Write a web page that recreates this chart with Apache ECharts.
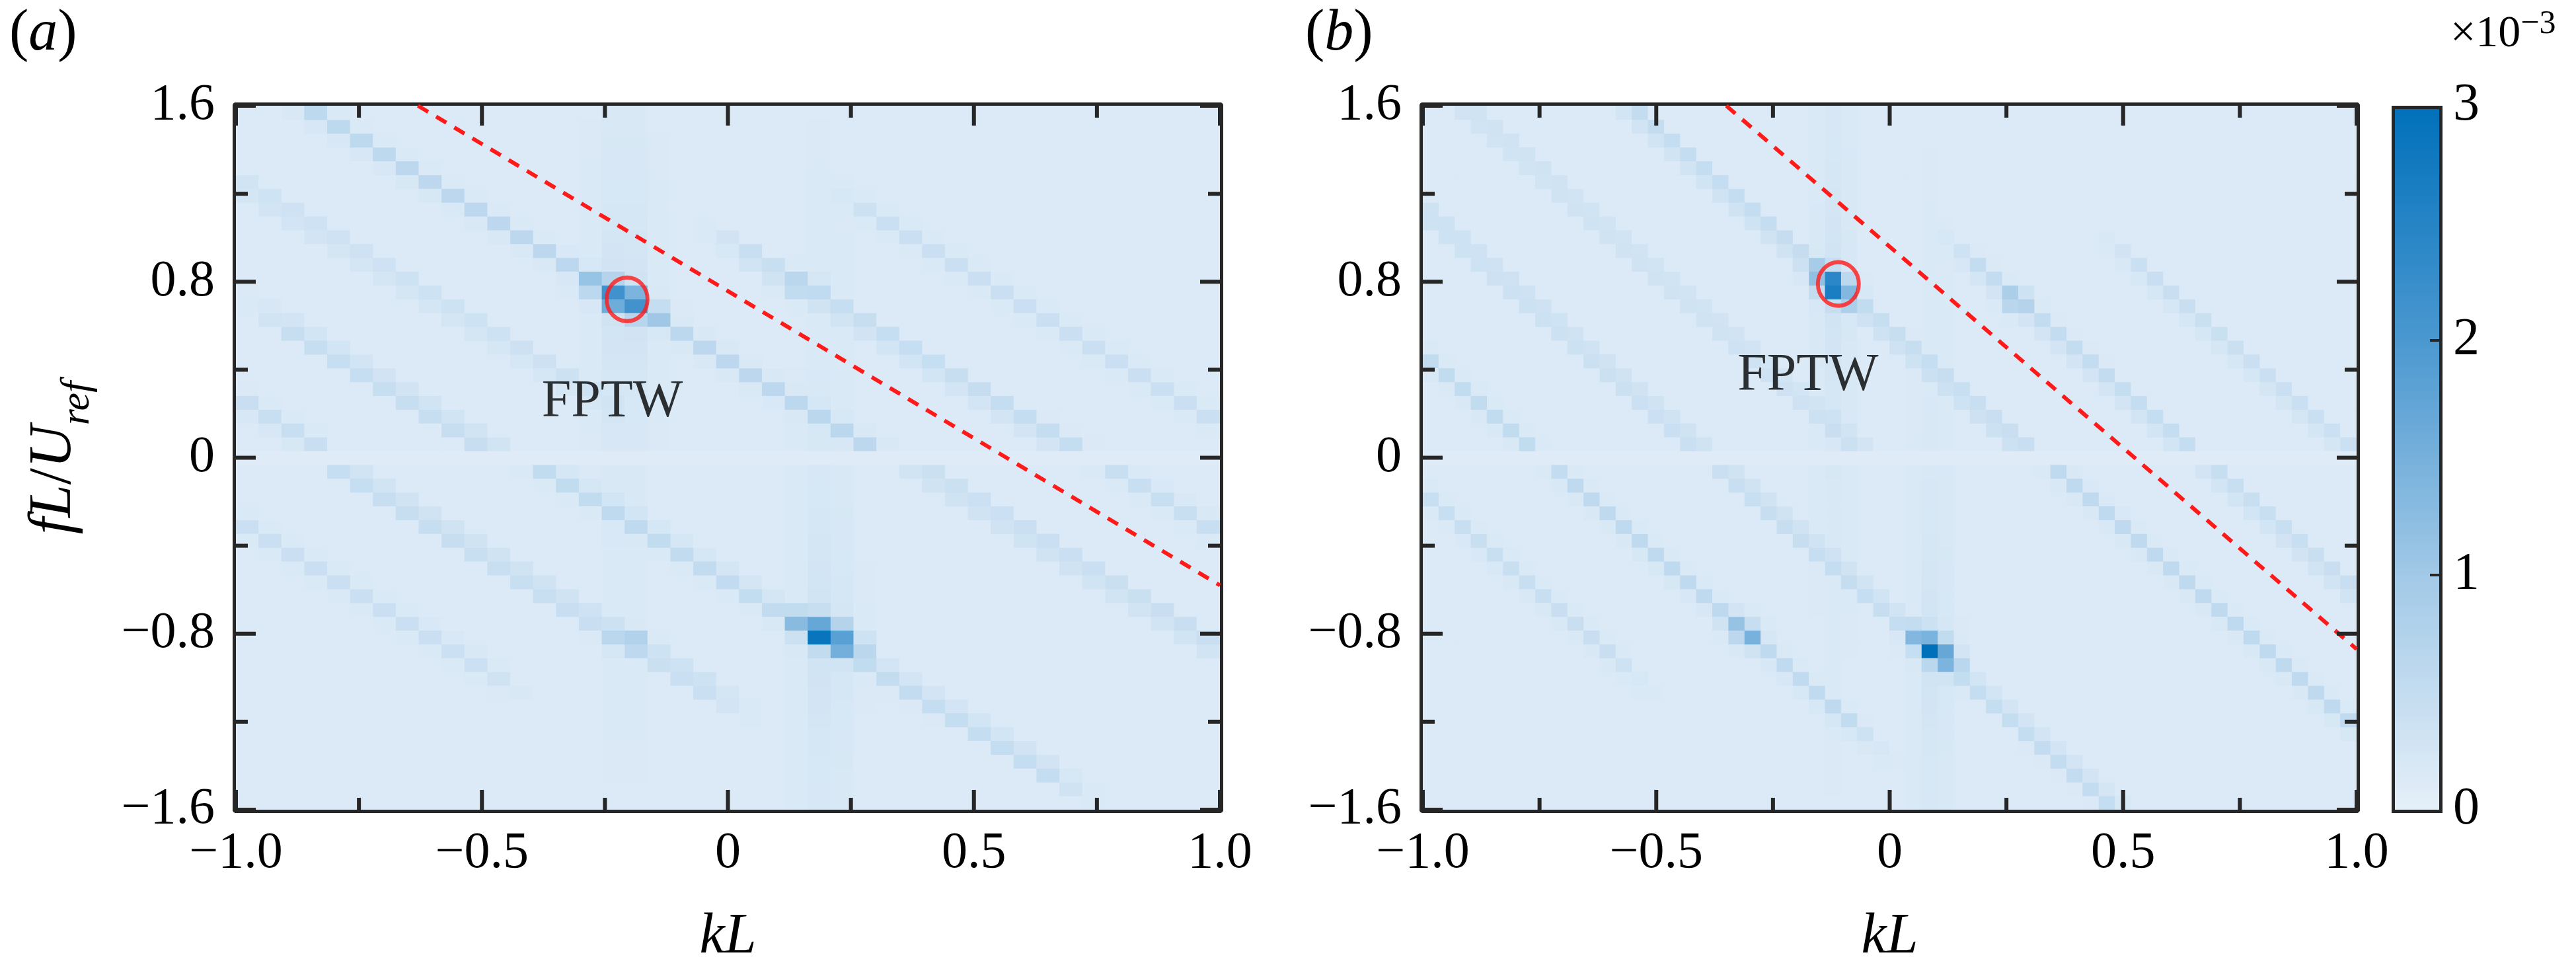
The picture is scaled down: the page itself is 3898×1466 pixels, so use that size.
<!DOCTYPE html>
<html><head><meta charset="utf-8">
<script src="https://cdn.jsdelivr.net/npm/echarts@6/dist/echarts.min.js"></script>
<style>html,body{margin:0;padding:0;background:#fff}#c{width:3898px;height:1466px}</style>
</head><body><div id="c"></div>
<script>
// ---- data ----
const xTicks = [-1.0, -0.5, 0, 0.5, 1.0];
const xMinorTicks = [-0.75, -0.25, 0.25, 0.75];
const yTicks = [-1.6, -0.8, 0, 0.8, 1.6];
const yMinorTicks = [-1.2, -0.4, 0.4, 1.2];
const colorTicks = [0, 1, 2, 3];
const colorStops = ['#e6f0f9', '#a2c9e7', '#4b98d0', '#0070BA'];
const background = 0.16;
// panel (a): slope of streaks, grid resolution
const slopeA = -1.34, colsA = 43, rowsA = 51;
// streaks: [intercept c (f at kL=0), kFrom, kTo, amplitude, half]
const streaksA = [
  [-1.07, -1.0, -0.85, 0.3, 'u'], [-0.60, -0.88, -0.45, 0.4, 'u'], [-0.08, -0.95, -0.30, 0.28, 'u'],
  [0.44, -0.85, 0.38, 0.45, 'u'], [0.98, 0.05, 0.9, 0.4, 'u'], [1.50, 0.3, 1.0, 0.25, 'u'],
  [-1.62, -1.0, -0.5, 0.25, 'l'], [-1.10, -0.82, -0.05, 0.42, 'l'], [-0.55, -0.42, 0.65, 0.42, 'l'],
  [0.47, 0.4, 1.0, 0.38, 'l'], [1.00, 0.78, 1.0, 0.28, 'l']
];
// hot spots: [kL, f, amplitude]
const hotA = [[-0.21, 0.72, 2.8], [-0.26, 0.79, 0.9], [-0.16, 0.65, 0.7], [0.15, 0.78, 0.35],
  [0.20, -0.80, 2.8], [0.155, -0.74, 0.9], [0.245, -0.86, 1.1], [-0.2, -0.83, 0.5]];
// faint vertical bands: [kL, f centre, amplitude]
const bandsA = [[-0.21, 0.72, 0.2], [0.20, -0.80, 0.2]];
const redLineA = [[-0.63, 1.6], [1.0, -0.58]];
const circleA = [[-0.205, 0.72]];
const labelA = [[-0.235, 0.25]];

// panel (b)
const slopeB = -1.83, colsB = 58, rowsB = 51;
const streaksB = [
  [-1.36, -1.0, -0.74, 0.38, 'u'], [-0.70, -1.0, -0.39, 0.38, 'u'], [-0.07, -0.9, -0.04, 0.3, 'u'],
  [0.57, -0.55, 0.3, 0.45, 'u'], [1.21, 0.2, 0.66, 0.42, 'u'], [1.84, 0.55, 1.0, 0.32, 'u'],
  [-1.99, -1.0, -0.6, 0.28, 'l'], [-1.36, -0.68, -0.1, 0.42, 'l'], [-0.70, -0.34, 0.45, 0.42, 'l'],
  [0.60, 0.36, 0.97, 0.42, 'l'], [1.21, 0.68, 1.0, 0.38, 'l']
];
const hotB = [[-0.118, 0.78, 2.9], [-0.15, 0.84, 0.8], [-0.085, 0.72, 0.6], [0.27, 0.72, 0.7],
  [0.095, -0.87, 2.9], [0.06, -0.81, 0.9], [0.13, -0.93, 0.9], [-0.30, -0.81, 1.0], [-0.33, -0.75, 0.5]];
const bandsB = [[-0.118, 0.78, 0.18], [0.095, -0.87, 0.18]];
const redLineB = [[-0.35, 1.6], [1.0, -0.87]];
const circleB = [[-0.11, 0.79]];
const labelB = [[-0.175, 0.37]];

// ---- build cells ----
const sq = x => x * x;
function build(slope, cols, rows, streaks, hots, bands) {
  const dk = 2 / cols, df = 3.2 / rows, out = [];
  for (let i = 0; i < cols; i++) for (let j = 0; j < rows; j++) {
    const k = -1 + dk * (i + 0.5), f = -1.6 + df * (j + 0.5);
    let v = background;
    if (Math.abs(f) < df / 2) { out.push([k, f, background * 0.6]); continue; }
    for (const [c, k0, k1, a, h] of streaks) {
      if ((h === 'u' && f < 0) || (h === 'l' && f > 0)) continue;
      const d = f - (c + slope * k);
      const o = k < k0 ? k0 - k : (k > k1 ? k - k1 : 0);
      v += a * Math.exp(-sq(d / 0.04)) * Math.exp(-sq(o / 0.06));
    }
    for (const [k0, f0, a] of hots) v += a * Math.exp(-sq((k - k0) / (dk * 0.75)) - sq((f - f0) / (df * 0.75)));
    for (const [k0, f0, a] of bands) v += a * Math.exp(-sq((k - k0) / dk)) * Math.exp(-Math.abs(f - f0) / 0.7);
    out.push([k, f, Math.min(v, 3)]);
  }
  return {cells: out, dk, df};
}
const A = build(slopeA, colsA, rowsA, streaksA, hotA, bandsA);
const B = build(slopeB, colsB, rowsB, streaksB, hotB, bandsB);

// tick items: [x, y, kind] kind 0 x-major, 1 x-minor, 2 y-major, 3 y-minor
const tickItems = [
  ...xTicks.map(v => [v, -1.6, 0]), ...xMinorTicks.map(v => [v, -1.6, 1]),
  ...yTicks.map(v => [-1, v, 2]), ...yMinorTicks.map(v => [-1, v, 3])];

const FONT = 'Liberation Serif';
const fmt = v => (v < 0 ? '\u2212' : '') + (Math.abs(v) === 0 ? '0' : Math.abs(v).toFixed(1));
const axisCommon = {
  axisLine: {show: true, onZero: false, lineStyle: {color: '#262626', width: 10}},
  axisTick: {show: false}, minorTick: {show: false},
  splitLine: {show: false}};
function xAx(grid, pos, show) {
  return Object.assign({type: 'value', gridIndex: grid, position: pos, min: -1, max: 1, interval: 0.5,
    axisLabel: {show: show, formatter: fmt, fontFamily: FONT, fontSize: 78, color: '#000', margin: 28},
    name: show ? 'kL' : '', nameLocation: 'middle', nameGap: 150,
    nameTextStyle: {fontFamily: FONT, fontStyle: 'italic', fontSize: 86, color: '#000'}}, axisCommon);
}
function yAx(grid, pos, show, title) {
  return Object.assign({type: 'value', gridIndex: grid, position: pos, min: -1.6, max: 1.6, interval: 0.8,
    axisLabel: {show: show, formatter: fmt, fontFamily: FONT, fontSize: 78, color: '#000', margin: 32},
    name: title ? '{i|fL}{n|/}{i|U}{s|ref}' : '', nameLocation: 'middle', nameGap: 230, nameRotate: 90,
    nameTextStyle: {rich: {
      i: {fontFamily: FONT, fontStyle: 'italic', fontSize: 90, color: '#000'},
      n: {fontFamily: FONT, fontSize: 90, color: '#000'},
      s: {fontFamily: FONT, fontStyle: 'italic', fontSize: 62, color: '#000', verticalAlign: 'bottom', padding: [0, 0, -22, 0]}}}}, axisCommon);
}
function heat(idx, D) {
  return {type: 'custom', xAxisIndex: idx * 2, yAxisIndex: idx * 2, data: D.cells, clip: true, z: 1,
    encode: {x: 0, y: 1},
    renderItem: (params, api) => {
      const p = api.coord([api.value(0), api.value(1)]);
      const s = api.size([D.dk, D.df]);
      return {type: 'rect', shape: {x: p[0] - s[0] / 2 - 0.5, y: p[1] - s[1] / 2 - 0.5, width: s[0] + 1, height: s[1] + 1},
        style: {fill: api.visual('color')}};
    }};
}
function ticks(idx) {
  return {type: 'custom', xAxisIndex: idx * 2, yAxisIndex: idx * 2, data: tickItems, clip: false, z: 20, silent: true,
    encode: {x: 0, y: 1},
    renderItem: (params, api) => {
      const kind = api.value(2), major = kind === 0 || kind === 2, L = major ? 30 : 18;
      const st = {stroke: '#262626', lineWidth: 6};
      if (kind < 2) {
        const b = api.coord([api.value(0), -1.6]), t = api.coord([api.value(0), 1.6]);
        return {type: 'group', children: [
          {type: 'line', shape: {x1: b[0], y1: b[1], x2: b[0], y2: b[1] - L}, style: st},
          {type: 'line', shape: {x1: t[0], y1: t[1], x2: t[0], y2: t[1] + L}, style: st}]};
      }
      const l = api.coord([-1, api.value(1)]), r = api.coord([1, api.value(1)]);
      return {type: 'group', children: [
        {type: 'line', shape: {x1: l[0], y1: l[1], x2: l[0] + L, y2: l[1]}, style: st},
        {type: 'line', shape: {x1: r[0], y1: r[1], x2: r[0] - L, y2: r[1]}, style: st}]};
    }};
}
function overlays(idx, line, circ, lab) {
  return [
    {type: 'line', xAxisIndex: idx * 2, yAxisIndex: idx * 2, data: line, symbol: 'none', z: 5,
      lineStyle: {color: '#ff1a1a', width: 6, type: [18, 14]}},
    {type: 'scatter', xAxisIndex: idx * 2, yAxisIndex: idx * 2, data: circ, symbol: 'circle', symbolSize: [62, 66], z: 6,
      itemStyle: {color: 'rgba(0,0,0,0)', borderColor: '#ff1a1a', borderWidth: 6}},
    {type: 'scatter', xAxisIndex: idx * 2, yAxisIndex: idx * 2, data: lab, symbolSize: 0, z: 6,
      label: {show: true, position: 'inside', formatter: 'FPTW', fontFamily: FONT, fontSize: 80, color: '#000'}}
  ];
}
const cbTop = 160, cbH = 1065, cbLeft = 3619, cbW = 72;
const chart = echarts.init(document.getElementById('c'));
chart.setOption({
  animation: false,
  backgroundColor: '#fff',
  grid: [{left: 357, top: 160, width: 1489, height: 1065}, {left: 2153, top: 160, width: 1413, height: 1065}],
  xAxis: [xAx(0, 'bottom', true), xAx(0, 'top', false), xAx(1, 'bottom', true), xAx(1, 'top', false)],
  yAxis: [yAx(0, 'left', true, true), yAx(0, 'right', false, false), yAx(1, 'left', true, false), yAx(1, 'right', false, false)],
  visualMap: {type: 'continuous', show: false, min: 0, max: 3, dimension: 2, seriesIndex: [0, 4],
    inRange: {color: colorStops}},
  series: [heat(0, A), ...overlays(0, redLineA, circleA, labelA), heat(1, B), ...overlays(1, redLineB, circleB, labelB), ticks(0), ticks(1)],
  graphic: [
    {type: 'rect', left: cbLeft, top: cbTop, shape: {width: cbW, height: cbH}, z: 100,
      style: {stroke: '#262626', lineWidth: 5, fill: new echarts.graphic.LinearGradient(0, 1, 0, 0,
        colorStops.map((c, i) => ({offset: i / (colorStops.length - 1), color: c})))}},
    ...colorTicks.map(t => ({type: 'text', x: 3712, y: cbTop + cbH * (1 - t / 3), z: 100,
      style: {text: String(t), font: '80px "Liberation Serif"', fill: '#000', verticalAlign: 'middle'}})),
    ...colorTicks.filter(t => t > 0 && t < 3).map(t => ({type: 'line', z: 101,
      shape: {x1: cbLeft + cbW - 14, y1: cbTop + cbH * (1 - t / 3), x2: cbLeft + cbW, y2: cbTop + cbH * (1 - t / 3)}, style: {stroke: '#262626', lineWidth: 4}})),
    {type: 'text', left: 3708, top: 12, z: 100, style: {rich: {a: {fontFamily: FONT, fontSize: 68, fill: '#000'}, b: {fontFamily: FONT, fontSize: 50, fill: '#000', verticalAlign: 'top', padding: [0, 0, 30, 0]}},
      text: '{a|\u00d710}{b|\u22123}'}},
    {type: 'text', left: 14, top: 8, z: 100, style: {rich: {n: {fontFamily: FONT, fontSize: 88, fill: '#000'}, i: {fontFamily: FONT, fontStyle: 'italic', fontSize: 88, fill: '#000'}}, text: '{n|(}{i|a}{n|)}'}},
    {type: 'text', left: 1975, top: 8, z: 100, style: {rich: {n: {fontFamily: FONT, fontSize: 88, fill: '#000'}, i: {fontFamily: FONT, fontStyle: 'italic', fontSize: 88, fill: '#000'}}, text: '{n|(}{i|b}{n|)}'}}
  ]
});
</script></body></html>
